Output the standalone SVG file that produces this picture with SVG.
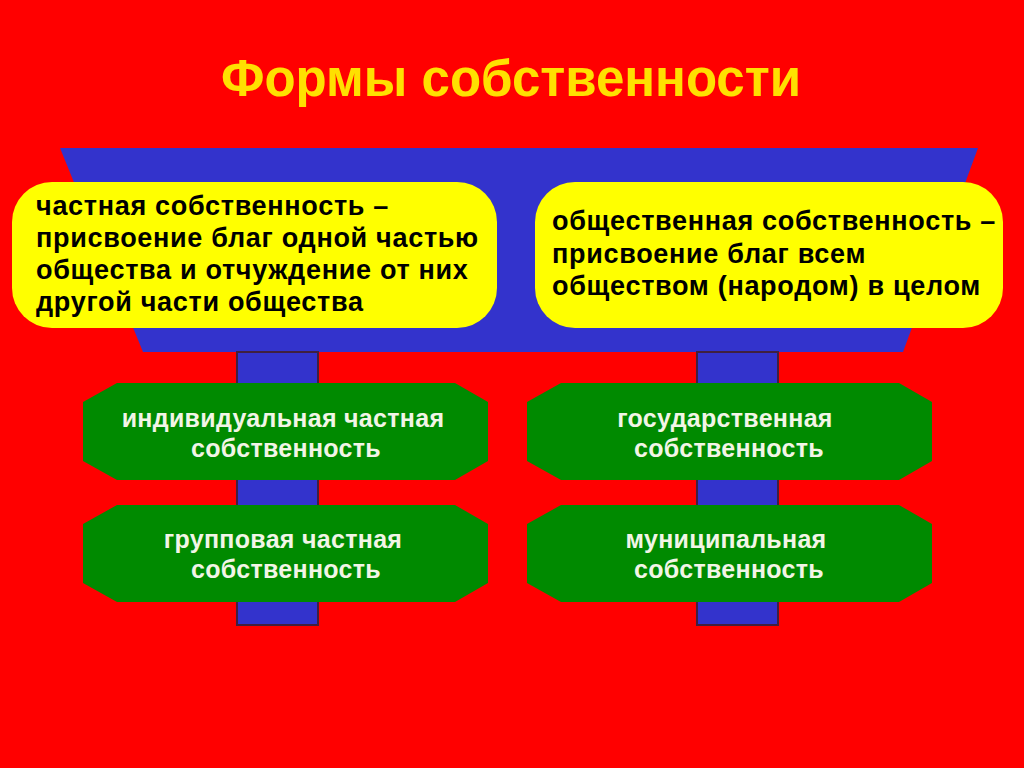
<svg xmlns="http://www.w3.org/2000/svg" width="1024" height="768" viewBox="0 0 1024 768">
<style>
.title{font-family:"Liberation Sans",Arial,sans-serif;font-weight:bold;font-size:51px;fill:#FFE000;text-anchor:middle}
.def{font-family:"Liberation Sans",Arial,sans-serif;font-weight:bold;font-size:27px;letter-spacing:0.7px;fill:#000}
.kind{font-family:"Liberation Sans",Arial,sans-serif;font-weight:bold;font-size:25px;letter-spacing:0.3px;fill:#F2F5E6;text-anchor:middle}
.yel{fill:#FFFF00}
.grn{fill:#008A00}
.blue{fill:#3333CC}
.stem{fill:#3333CC;stroke:#402040;stroke-width:2}
</style>
<rect width="1024" height="768" fill="#FF0000"/>
<text class="title" x="511" y="96">Формы собственности</text>
<g id="connectors">
<polygon class="blue" points="60,148 978,148 903,352 143,352"/>
<rect class="stem" x="237" y="352" width="81" height="273"/>
<rect class="stem" x="697" y="352" width="81" height="273"/>
</g>
<g id="private">
<rect class="yel" x="12" y="182" width="485" height="146" rx="40"/>
<text class="def" x="36" y="215">частная собственность –</text>
<text class="def" x="36" y="247">присвоение благ одной частью</text>
<text class="def" x="36" y="279">общества и отчуждение от них</text>
<text class="def" x="36" y="311">другой части общества</text>
</g>
<g id="public">
<rect class="yel" x="535" y="182" width="468" height="146" rx="40"/>
<text class="def" x="552" y="230">общественная собственность –</text>
<text class="def" x="552" y="263">присвоение благ всем</text>
<text class="def" x="552" y="295">обществом (народом) в целом</text>
</g>
<g id="individual">
<polygon class="grn" points="117,383 455,383 488,402 488,461 455,480 117,480 83,461 83,402"/>
<text class="kind" x="283" y="427">индивидуальная частная</text>
<text class="kind" x="286" y="457">собственность</text>
</g>
<g id="group">
<polygon class="grn" points="117,505 455,505 488,524 488,583 455,602 117,602 83,583 83,524"/>
<text class="kind" x="283" y="548">групповая частная</text>
<text class="kind" x="286" y="578">собственность</text>
</g>
<g id="state">
<polygon class="grn" points="561,383 899,383 932,402 932,461 899,480 561,480 527,461 527,402"/>
<text class="kind" x="725" y="427">государственная</text>
<text class="kind" x="729" y="457">собственность</text>
</g>
<g id="municipal">
<polygon class="grn" points="561,505 899,505 932,524 932,583 899,602 561,602 527,583 527,524"/>
<text class="kind" x="726" y="548">муниципальная</text>
<text class="kind" x="729" y="578">собственность</text>
</g>
</svg>
